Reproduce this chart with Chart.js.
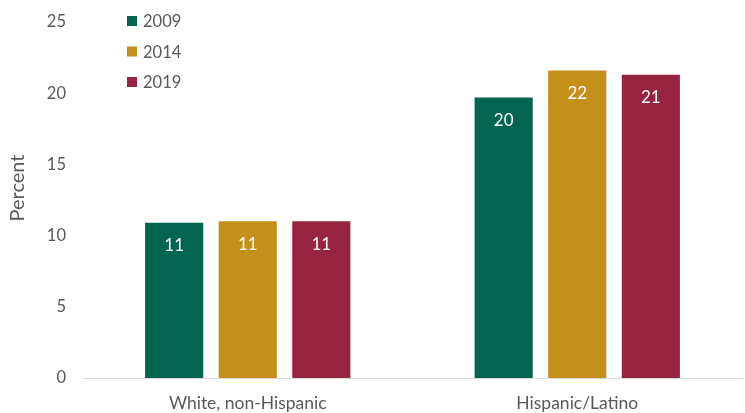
<!DOCTYPE html>
<html>
<head>
<meta charset="utf-8">
<script src="https://cdn.jsdelivr.net/npm/chart.js@4"></script>
<style>
  html, body { margin: 0; padding: 0; background: #fff; }
  #wrap { width: 745px; height: 413px; }
</style>
</head>
<body>
<div id="wrap"><canvas id="chart" width="745" height="413"></canvas></div>
<script>
const categories = ["White, non-Hispanic", "Hispanic/Latino"];
const years = ["2009", "2014", "2019"];
const values2009 = [10.9, 19.7];
const values2014 = [11.0, 21.6];
const values2019 = [11.0, 21.3];
const yTicks = [0, 5, 10, 15, 20, 25];

const colors = ["#02654F", "#C49019", "#962340"];
const textColor = "#595959";
const fontFamily = "Lato, 'Open Sans', sans-serif";

// valeurs arrondies dans les barres
const barLabels = {
  id: "barLabels",
  afterDatasetsDraw(chart) {
    const ctx = chart.ctx;
    ctx.save();
    ctx.fillStyle = "#ffffff";
    ctx.font = "17px " + fontFamily;
    ctx.textAlign = "center";
    ctx.textBaseline = "middle";
    chart.data.datasets.forEach(function (ds, i) {
      chart.getDatasetMeta(i).data.forEach(function (bar, j) {
        ctx.fillText(Math.round(ds.data[j]), bar.x, bar.y + 23);
      });
    });
    ctx.restore();
  }
};

// légende verticale + titre de l'axe
const sideText = {
  id: "sideText",
  afterDraw(chart) {
    const ctx = chart.ctx;
    ctx.save();
    ctx.font = "16.5px " + fontFamily;
    ctx.textBaseline = "middle";
    chart.data.datasets.forEach(function (ds, i) {
      const y = 21 + i * 30.5;
      ctx.fillStyle = ds.backgroundColor;
      ctx.fillRect(127, y - 5, 10, 10);
      ctx.fillStyle = textColor;
      ctx.textAlign = "left";
      ctx.fillText(ds.label, 143, y + 1);
    });
    ctx.font = "20px " + fontFamily;
    ctx.translate(18, 188);
    ctx.rotate(-Math.PI / 2);
    ctx.textAlign = "center";
    ctx.fillText("Percent", 0, 0);
    ctx.restore();
  }
};

new Chart(document.getElementById("chart"), {
  type: "bar",
  data: {
    labels: categories,
    datasets: [
      { label: years[0], data: values2009, backgroundColor: colors[0] },
      { label: years[1], data: values2014, backgroundColor: colors[1] },
      { label: years[2], data: values2019, backgroundColor: colors[2] }
    ]
  },
  options: {
    responsive: false,
    animation: false,
    layout: { padding: { top: 22, right: 3, left: 0, bottom: 0 } },
    categoryPercentage: 0.67,
    barPercentage: 0.79,
    plugins: { legend: { display: false }, tooltip: { enabled: false } },
    scales: {
      x: {
        grid: { display: false, drawTicks: false },
        border: { color: "#d9d9d9", width: 1 },
        ticks: { color: textColor, font: { family: fontFamily, size: 17.5 }, padding: 15 },
        afterFit: function (s) { s.height = 35; s.paddingLeft = 0; s.paddingRight = 0; }
      },
      y: {
        min: 0,
        max: 25,
        afterBuildTicks: function (s) { s.ticks = yTicks.map(v => ({ value: v })); },
        grid: { display: false, drawTicks: false },
        border: { display: false },
        ticks: { color: textColor, font: { family: fontFamily, size: 16.5 }, padding: 17 },
        afterFit: function (s) { s.width = 83; s.paddingTop = 0; s.paddingBottom = 0; }
      }
    }
  },
  plugins: [barLabels, sideText]
});
</script>
</body>
</html>
